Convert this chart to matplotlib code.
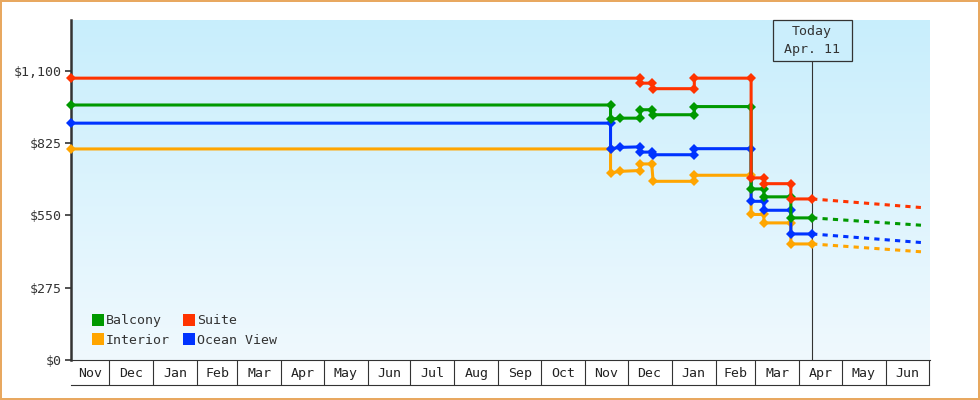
import numpy as np
import pandas as pd
import matplotlib
matplotlib.use("Agg")
import matplotlib.pyplot as plt
import matplotlib.dates as mdates
import matplotlib.transforms as mtrans
from matplotlib.colors import LinearSegmentedColormap
from matplotlib.lines import Line2D
from matplotlib.patches import Rectangle
from matplotlib.ticker import FixedLocator, FixedFormatter, NullFormatter

# price history (step vertices)
suite_dates = ["2016-11-04", "2017-12-10", "2017-12-10", "2017-12-18", "2017-12-19",
               "2018-01-17", "2018-01-17", "2018-02-26", "2018-02-26", "2018-03-07",
               "2018-03-07", "2018-03-26", "2018-03-26", "2018-04-10"]
suite_prices = [1071, 1071, 1052, 1052, 1031, 1031, 1071, 1071, 692, 692, 670, 670, 612, 612]

other_dates = ["2016-11-04", "2017-11-19", "2017-11-19", "2017-11-26", "2017-12-10",
               "2017-12-10", "2017-12-18", "2017-12-19", "2018-01-17", "2018-01-17",
               "2018-02-26", "2018-02-26", "2018-03-07", "2018-03-07", "2018-03-26",
               "2018-03-26", "2018-04-10"]
balcony_prices = [969, 969, 915, 919, 919, 951, 951, 932, 932, 963, 963, 650, 650, 620, 620, 540, 540]
ocean_prices = [900, 900, 803, 808, 810, 790, 790, 780, 780, 803, 803, 603, 603, 569, 569, 479, 479]
interior_prices = [802, 802, 711, 717, 720, 745, 745, 679, 679, 702, 702, 553, 553, 521, 521, 441, 441]

# forecast (dashed)
forecast_dates = ["2018-04-10", "2018-06-29"]
suite_forecast = [612, 578]
balcony_forecast = [540, 511]
ocean_forecast = [479, 445]
interior_forecast = [441, 410]

today = pd.Timestamp("2018-04-10")
today_label = "Today\nApr. 11"
x_start = pd.Timestamp("2016-11-04")
x_end = pd.Timestamp("2018-07-02")
y_ticks = [0, 275, 550, 825, 1100]
y_labels = ["$0", "$275", "$550", "$825", "$1,100"]

colors = {"Balcony": "#009900", "Suite": "#ff3300",
          "Interior": "#ffa500", "Ocean View": "#0033ff"}
mono = "DejaVu Sans Mono"
dark = "#333333"

fig = plt.figure(figsize=(9.8, 4), dpi=100)
fig.patch.set_facecolor("white")
fig.patch.set_edgecolor("#e8a860")
fig.patch.set_linewidth(1.5)
ax = fig.add_axes([71 / 980, 40 / 400, 859 / 980, 340 / 400])

# gradient background
cmap = LinearSegmentedColormap.from_list("bg", ["#f0f9fe", "#c8eefc"])
ax.imshow(np.linspace(0, 1, 256).reshape(-1, 1), cmap=cmap, origin="lower",
          extent=[0, 1, 0, 1], transform=ax.transAxes, aspect="auto", zorder=0)

series = [
    ("Interior", other_dates, interior_prices, interior_forecast),
    ("Ocean View", other_dates, ocean_prices, ocean_forecast),
    ("Balcony", other_dates, balcony_prices, balcony_forecast),
    ("Suite", suite_dates, suite_prices, suite_forecast),
]
for name, d, p, f in series:
    c = colors[name]
    ax.plot(pd.to_datetime(d), p, color=c, lw=2.2, marker="D", ms=5.2, mew=0,
            zorder=3, clip_on=False)
    ax.plot(pd.to_datetime(forecast_dates), f, color=c, lw=2.2,
            ls=(0, (1.7, 1.7)), zorder=3)

ax.set_xlim(x_start, x_end)
ax.set_ylim(0, 1292)

# today marker: line plus a 79x41 px box at the top
trans = mtrans.blended_transform_factory(ax.transData, ax.transAxes)
ax.axvline(today, color=dark, lw=0.8, zorder=2)
days_per_px = (x_end - x_start).days / 859
box_w = 79 * days_per_px
box_h = 41 / 340
t0 = mdates.date2num(today)
ax.add_patch(Rectangle((t0 - box_w / 2, 1 - box_h), box_w, box_h, transform=trans,
                       fc="#cbeefc", ec=dark, lw=0.9, zorder=5, clip_on=False))
ax.text(t0, 1 - box_h / 2, today_label, transform=trans, ha="center", va="center",
        fontsize=9.5, family=mono, color=dark, linespacing=1.45, zorder=6)

# spines
for s in ["top", "right"]:
    ax.spines[s].set_visible(False)
ax.spines["left"].set_linewidth(1.8)
ax.spines["left"].set_color(dark)
ax.spines["bottom"].set_linewidth(0.8)
ax.spines["bottom"].set_color(dark)

# y axis
ax.set_yticks(y_ticks)
ax.set_yticklabels(y_labels, family=mono, fontsize=9.5, color=dark)
ax.tick_params(axis="y", direction="out", length=4.5, width=1.2, color=dark, pad=2)

# x axis: month boxes
ax.xaxis.set_major_locator(mdates.MonthLocator())
ax.xaxis.set_major_formatter(NullFormatter())
ax.tick_params(axis="x", which="major", direction="out", length=18, width=0.8, color=dark)
month_starts = pd.date_range("2016-11-01", "2018-07-01", freq="MS")
mids, labels = [], []
for a, b in zip(month_starts[:-1], month_starts[1:]):
    a2 = max(a, x_start)
    mids.append(mdates.date2num(a2 + (b - a2) / 2))
    labels.append(a.strftime("%b"))
ax.xaxis.set_minor_locator(FixedLocator(mids))
ax.xaxis.set_minor_formatter(FixedFormatter(labels))
ax.tick_params(axis="x", which="minor", length=0, pad=5, labelsize=9.5, labelcolor="#222222")
for t in ax.xaxis.get_minorticklabels():
    t.set_family(mono)
ax.plot([x_start, month_starts[-1]], [-25 / 340, -25 / 340], transform=trans,
        color=dark, lw=0.8, clip_on=False)

# legend
order = ["Balcony", "Interior", "Suite", "Ocean View"]
handles = [Line2D([], [], ls="none", marker="s", ms=8, mew=0, color=colors[n]) for n in order]
leg = ax.legend(handles, order, ncol=2, loc="lower left", bbox_to_anchor=(0.0115, 0.003),
                frameon=False, handlelength=0.8, handletextpad=0.2, columnspacing=1.03,
                labelspacing=0.52, prop={"family": mono, "size": 9.5})
for t in leg.get_texts():
    t.set_color(dark)

fig.savefig("out.png", dpi=100)
